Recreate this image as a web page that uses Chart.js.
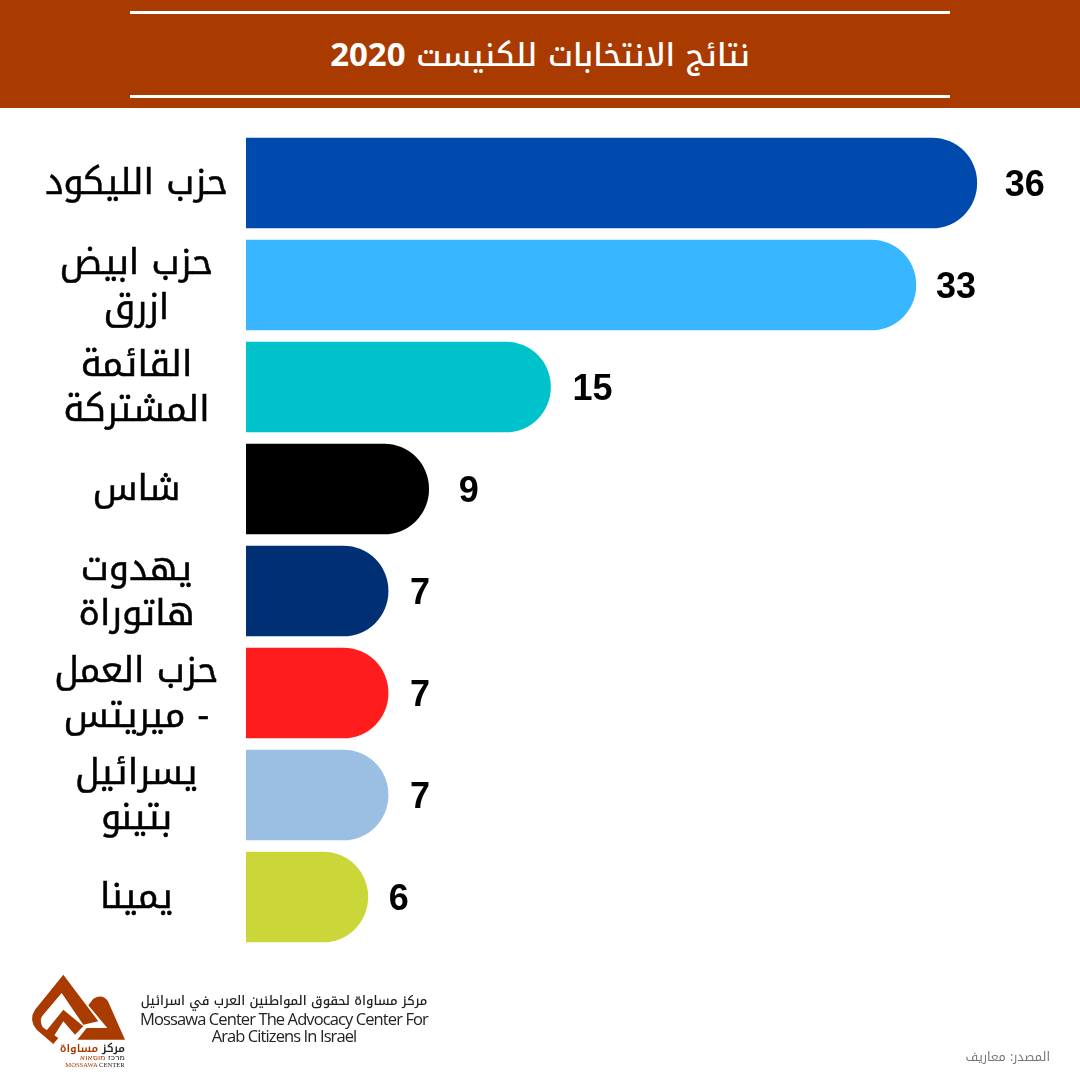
<!DOCTYPE html>
<html><head><meta charset="utf-8">
<style>
html,body{margin:0;padding:0;background:#fff;width:1080px;height:1080px;overflow:hidden}
#wrap{position:relative;width:1080px;height:1080px}
#c{position:absolute;left:0;top:0}
.abs{position:absolute;white-space:nowrap}
#hdr{left:0;top:0;width:1080px;height:108px;background:#a93a00}
.rule{left:130px;width:820px;height:3px;background:#fff}
#title{left:0;width:1080px;top:31px;text-align:center;color:#fff;font:500 31px "Noto Kufi Arabic","DejaVu Sans",sans-serif;line-height:44px}
#title b{font:700 33px "Open Sans",sans-serif}
.f{color:#222;text-align:center;font-family:"Open Sans","DejaVu Sans",sans-serif}
</style></head><body>
<div id="wrap">
<canvas id="c" width="1080" height="1080" dir="rtl"></canvas>
<div class="abs" id="hdr"></div>
<div class="abs rule" style="top:11px"></div>
<div class="abs rule" style="top:95px"></div>
<div class="abs" id="title" dir="rtl">نتائج الانتخابات للكنيست <b>2020</b></div>
<svg class="abs" style="left:0;top:960px" width="140" height="120" viewBox="0 0 140 120">
<g transform="translate(20,8) scale(.3333)" fill="#a93a00">
<path d="M130 20 L235 160 L190 170 L125 75 L66 145 Q58 160 68 178 L115 210 L100 228 L50 185 Q25 155 45 125 Z"/>
<path d="M78 190 L130 125 L190 175 L165 200 L130 160 L98 210 Z"/>
<path d="M220 92 Q248 76 264 100 L315 215 L172 215 L200 180 L262 180 L205 112 Z"/>
</g>
<text x="125" y="92" text-anchor="start" direction="rtl" font-family="Noto Kufi Arabic" font-weight="600" font-size="11" fill="#a93a00"><tspan fill="#222">مركز</tspan> مساواة</text>
<text x="125" y="100" text-anchor="start" direction="rtl" font-family="DejaVu Sans" font-size="8" fill="#a93a00"><tspan fill="#222">מרכז</tspan> מוסאוא</text>
<text x="95" y="107" text-anchor="middle" font-family="Liberation Serif" font-size="6.6" fill="#a93a00">MOSSAWA <tspan fill="#222">CENTER</tspan></text>
</svg>
<div class="abs f" dir="rtl" style="left:140px;width:288px;top:992px;font:500 12.8px/18px 'Noto Kufi Arabic','DejaVu Sans',sans-serif">مركز مساواة لحقوق المواطنين العرب في اسرائيل</div>
<div class="abs f" style="left:130px;width:308px;top:1010px;font-size:16.5px;line-height:18px;letter-spacing:-.9px">Mossawa Center The Advocacy Center For</div>
<div class="abs f" style="left:130px;width:308px;top:1027px;font-size:16.5px;line-height:18px;letter-spacing:-.9px">Arab Citizens In Israel</div>
<div class="abs" dir="rtl" style="left:900px;width:150px;top:1048px;text-align:right;color:#777;font:12.5px 'Noto Kufi Arabic','DejaVu Sans',sans-serif;line-height:18px">المصدر: معاريف</div>
</div>
<script src="https://cdn.jsdelivr.net/npm/chart.js@4"></script>
<script>
const categories=[["حزب الليكود"],["حزب ابيض","ازرق"],["القائمة","المشتركة"],["شاس"],["يهدوت","هاتوراة"],["حزب العمل","- ميريتس"],["يسرائيل","بتينو"],["يمينا"]];
const seats=[36,33,15,9,7,7,7,6];
const barColors=["#004aad","#38b6ff","#00c2cb","#000000","#003073","#ff1c1c","#9bbfe3","#cbd639"];
const labelGaps=[28,20,22,30,22,22,22,21];
const valueLabels={id:'valueLabels',afterDatasetsDraw(chart){
  const {ctx}=chart;const meta=chart.getDatasetMeta(0);
  ctx.save();ctx.direction='ltr';ctx.font='bold 36px "Liberation Sans"';ctx.fillStyle='#000';ctx.textAlign='center';ctx.textBaseline='middle';
  meta.data.forEach((b,i)=>{const t=String(seats[i]);const w=ctx.measureText(t).width;ctx.fillText(t,b.x+labelGaps[i]+w/2,b.y+3);});
  ctx.restore();
}};
new Chart(document.getElementById('c'),{
  type:'bar',
  data:{labels:categories,datasets:[{data:seats,backgroundColor:barColors,barThickness:90,borderSkipped:'left',
    borderRadius:{topRight:45,bottomRight:45,topLeft:0,bottomLeft:0}}]},
  plugins:[valueLabels],
  options:{indexAxis:'y',responsive:false,animation:false,devicePixelRatio:1,
    layout:{padding:{top:132,right:22,bottom:132,left:0}},
    plugins:{legend:{display:false},tooltip:{enabled:false},title:{display:false}},
    scales:{
      x:{min:0,max:40,display:false},
      y:{grid:{display:false},border:{display:false},
        afterFit(s){s.width=246;},
        ticks:{crossAlign:'center',padding:10,labelOffset:5,color:'#000',autoSkip:false,
          textStrokeColor:'#000',textStrokeWidth:0.5,
          font:{family:'"Noto Kufi Arabic","DejaVu Sans"',size:36,lineHeight:1.25}}}
    }}
});
</script>
</body></html>
